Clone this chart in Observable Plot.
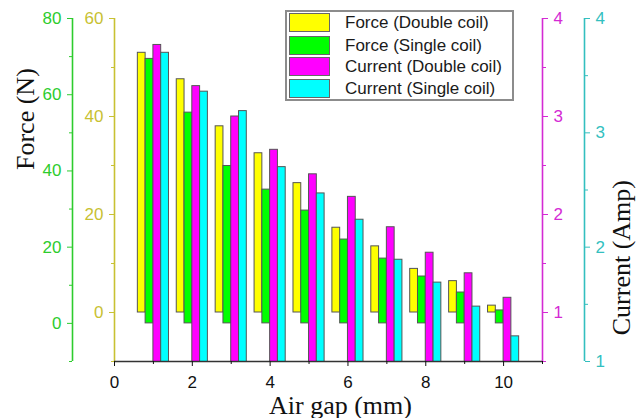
<!DOCTYPE html>
<html>
<head>
<meta charset="utf-8">
<script src="https://cdn.jsdelivr.net/npm/d3@7"></script>
<script src="https://cdn.jsdelivr.net/npm/@observablehq/plot@0.6"></script>
<style>
  html, body { margin: 0; padding: 0; background: #fff; }
  #wrap { position: relative; width: 641px; height: 418px; overflow: hidden; }
  #legend { position: absolute; left: 285px; top: 10px; width: 225px; height: 87px;
    border: 2px solid #8c8c8c; background: #fff; font-family: "Liberation Sans", Arial, sans-serif;
    font-size: 17px; color: #1a1a1a; }
  .row { position: absolute; left: 2px; height: 19px; display: flex; align-items: center; }
  .sw { width: 39px; height: 17px; border: 1px solid #666; margin-right: 15px; }
</style>
</head>
<body>
<div id="wrap"><div id="legend"></div></div>
<script>
// ---- data ----
const airGap = [1, 2, 3, 4, 5, 6, 7, 8, 9, 10];
const forceDouble = [53.0, 47.6, 38.0, 32.5, 26.4, 17.3, 13.5, 8.9, 6.4, 1.4];
const forceSingle = [69.4, 55.3, 41.3, 35.1, 29.6, 22.0, 17.0, 12.3, 8.1, 3.4];
const currentDouble = [3.73, 3.31, 3.00, 2.66, 2.41, 2.18, 1.87, 1.61, 1.40, 1.15];
const currentSingle = [3.70, 3.36, 3.19, 2.70, 2.47, 2.24, 1.89, 1.69, 1.48, 1.22];
const seriesNames = ["Force (Double coil)", "Force (Single coil)", "Current (Double coil)", "Current (Single coil)"];
const seriesColors = ["#ffff00", "#00ff00", "#ff00ff", "#00ffff"];

// axis domains (each series has its own y axis)
const xDomain = [0, 11];
const forceSingleDomain = [-10, 80];   // green axis (primary)
const forceDoubleDomain = [-10, 60];   // yellow axis
const currentDoubleDomain = [0.5, 4];  // magenta axis
const currentSingleDomain = [1, 4];    // cyan axis

const xTicks = [0, 2, 4, 6, 8, 10];
const xMinor = [1, 3, 5, 7, 9, 11];
const greenTicks = [0, 20, 40, 60, 80], greenMinor = [-10, 10, 30, 50, 70];
const yellowTicks = [0, 20, 40, 60], yellowMinor = [-10, 10, 30, 50];
const magentaTicks = [1, 2, 3, 4], magentaMinor = [0.5, 1.5, 2.5, 3.5];
const cyanTicks = [1, 2, 3, 4], cyanMinor = [1.5, 2.5, 3.5];

const GREEN = "#2dcc2d", YELLOW = "#c8c132", MAGENTA = "#d42ad4", CYAN = "#33bfbf";

// map a value from a secondary axis domain into the primary (green) domain
function mapper(dom) {
  const [a, b] = dom, [A, B] = forceSingleDomain;
  const f = v => A + (v - a) * (B - A) / (b - a);
  f.inv = u => a + (u - A) * (b - a) / (B - A);
  return f;
}
const Tg = mapper(forceSingleDomain), Ty = mapper(forceDoubleDomain),
      Tm = mapper(currentDoubleDomain), Tc = mapper(currentSingleDomain);

const series = [
  {vals: forceDouble, T: Ty, off: -0.4},
  {vals: forceSingle, T: Tg, off: -0.2},
  {vals: currentDouble, T: Tm, off: 0.0},
  {vals: currentSingle, T: Tc, off: 0.2}
];
const bars = [];
series.forEach((s, si) => {
  airGap.forEach((g, i) => {
    bars.push({series: seriesNames[si], x1: g + s.off, x2: g + s.off + 0.2,
               y1: s.T(0), y2: s.T(s.vals[i])});
  });
});

const fmt = T => d => String(+T.inv(d).toFixed(2));
const blank = () => "";

function yAxis(T, ticks, minor, anchor, color, dx) {
  return [
    Plot.axisY({anchor, ticks: ticks.map(T), tickFormat: fmt(T), tickSize: 5, tickPadding: 6,
                color, dx, label: null, fontSize: 17}),
    Plot.axisY({anchor, ticks: minor.map(T), tickFormat: blank, tickSize: 3,
                color, dx, label: null})
  ];
}

const plot = Plot.plot({
  width: 641, height: 418,
  marginLeft: 114, marginRight: 99, marginTop: 18, marginBottom: 57,
  style: {fontFamily: "Liberation Sans, Arial, sans-serif", fontSize: "17px", background: "white", overflow: "visible"},
  x: {domain: xDomain},
  y: {domain: forceSingleDomain},
  color: {domain: seriesNames, range: seriesColors},
  marks: [
    Plot.rect(bars, {x1: "x1", x2: "x2", y1: "y1", y2: "y2", fill: "series",
                     stroke: "#555", strokeWidth: 1, clip: true}),
    // axis lines
    Plot.ruleX([xDomain[0]], {y1: forceSingleDomain[0], y2: forceSingleDomain[1], dx: -42, stroke: GREEN, strokeWidth: 1.6}),
    Plot.ruleX([xDomain[0]], {y1: forceSingleDomain[0], y2: forceSingleDomain[1], stroke: YELLOW, strokeWidth: 1.6}),
    Plot.ruleX([xDomain[1]], {y1: forceSingleDomain[0], y2: forceSingleDomain[1], stroke: MAGENTA, strokeWidth: 1.6}),
    Plot.ruleX([xDomain[1]], {y1: forceSingleDomain[0], y2: forceSingleDomain[1], dx: 42, stroke: CYAN, strokeWidth: 1.6}),
    Plot.ruleY([forceSingleDomain[0]], {x1: xDomain[0], x2: xDomain[1], stroke: "#333", strokeWidth: 1.6}),
    // y axes
    ...yAxis(Tg, greenTicks, greenMinor, "left", GREEN, -42),
    ...yAxis(Ty, yellowTicks, yellowMinor, "left", YELLOW, 0),
    ...yAxis(Tm, magentaTicks, magentaMinor, "right", MAGENTA, 0),
    ...yAxis(Tc, cyanTicks, cyanMinor, "right", CYAN, 42),
    // x axis
    Plot.axisX({ticks: xTicks, tickSize: 5, tickPadding: 9, color: "#111", label: null, fontSize: 17}),
    Plot.axisX({ticks: xMinor, tickSize: 3, tickFormat: blank, color: "#111", label: null}),
    // titles
    Plot.text(["Force (N)"], {text: d => d, frameAnchor: "left", rotate: -90, dx: -89, dy: -20,
      fontSize: 26, fontFamily: "Liberation Serif, Times New Roman, serif", fill: "#111"}),
    Plot.text(["Current (Amp)"], {text: d => d, frameAnchor: "right", rotate: -90, dx: 79, dy: -10,
      fontSize: 26, fontFamily: "Liberation Serif, Times New Roman, serif", fill: "#111"}),
    Plot.text(["Air gap (mm)"], {text: d => d, frameAnchor: "bottom", lineAnchor: "bottom", dx: 12, dy: 52,
      fontSize: 26, fontFamily: "Liberation Serif, Times New Roman, serif", fill: "#111"})
  ]
});
document.getElementById("wrap").prepend(plot);

// legend
const legend = document.getElementById("legend");
const rowTops = [1, 24, 45, 67];
seriesNames.forEach((name, i) => {
  const row = document.createElement("div");
  row.className = "row";
  row.style.top = rowTops[i] + "px";
  const sw = document.createElement("div");
  sw.className = "sw";
  sw.style.background = seriesColors[i];
  const t = document.createElement("span");
  t.textContent = name;
  row.appendChild(sw); row.appendChild(t);
  legend.appendChild(row);
});
</script>
</body>
</html>
